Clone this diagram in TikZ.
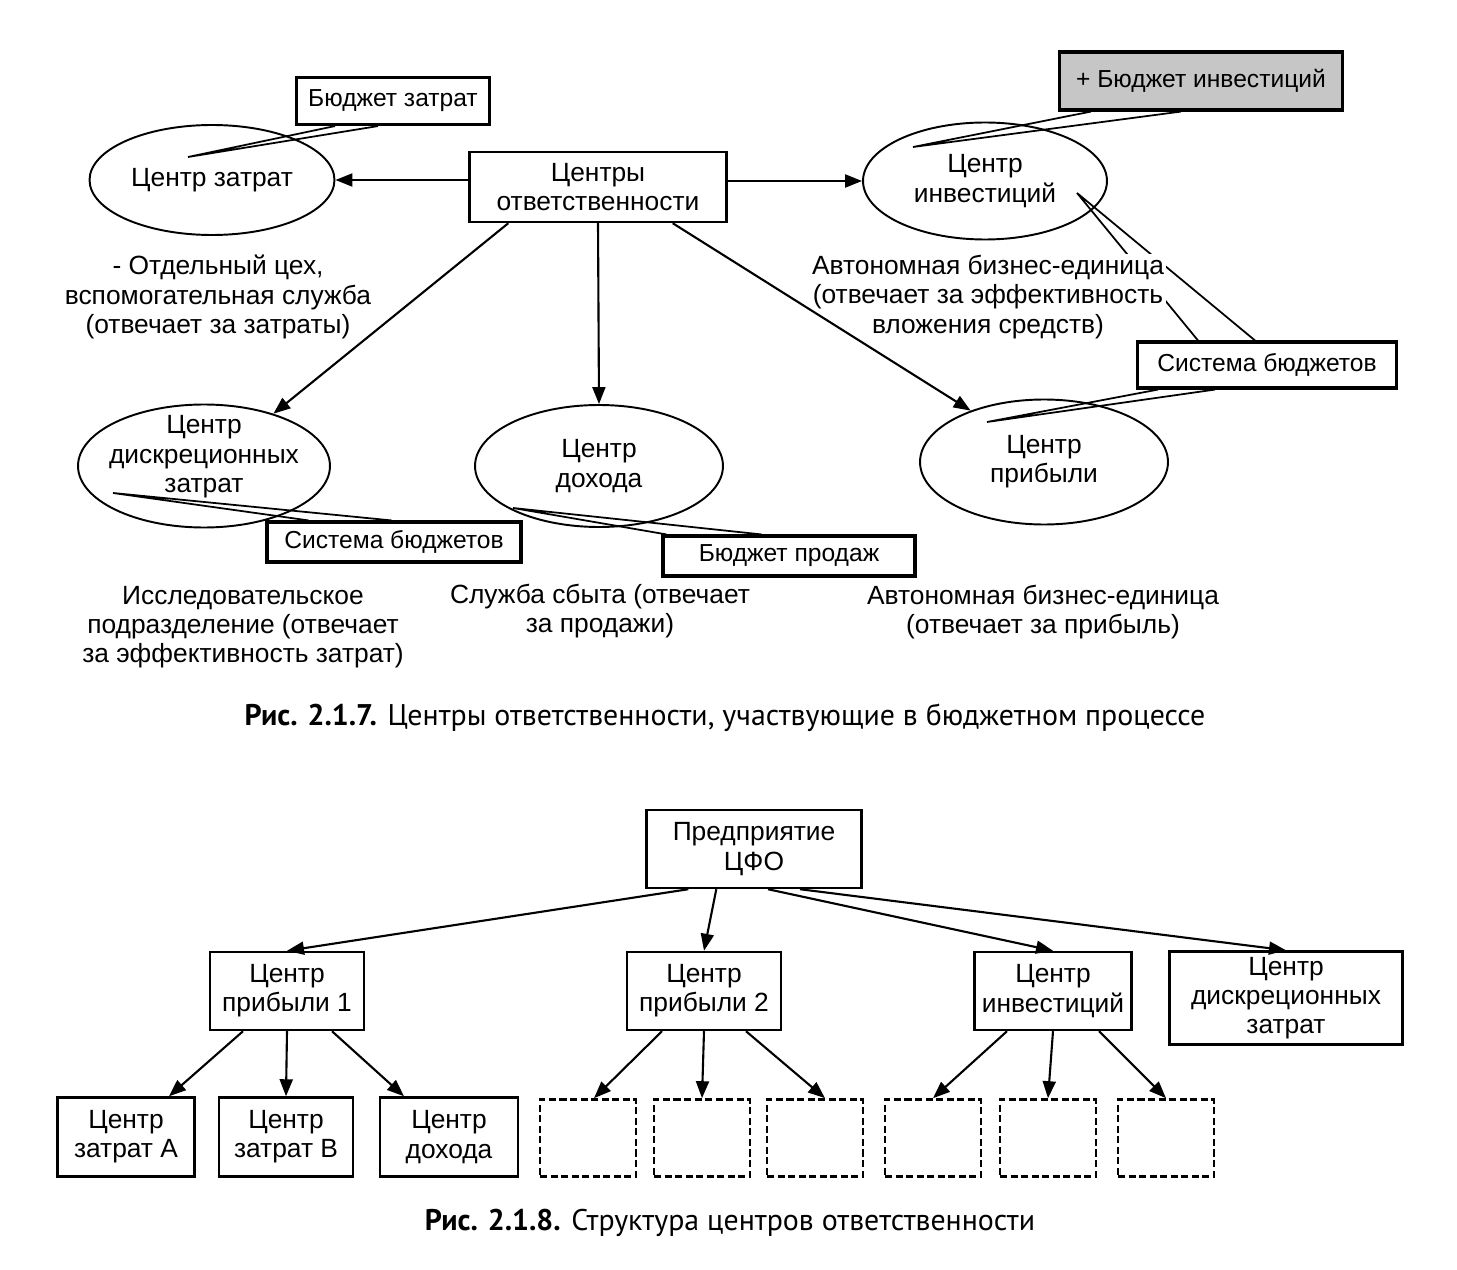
\documentclass[tikz,border=0pt]{standalone}
\usepackage{fontspec}
\setmainfont{Liberation Sans}
\newfontfamily\capfont{PT Sans}
\usetikzlibrary{positioning, arrows.meta, calc, shapes.geometric}

\begin{document}
\begin{tikzpicture}[
  x=0.02cm, y=-0.02cm,
  font=\fontsize{15}{16.6}\selectfont,
  oval/.style={draw, ellipse, line width=1.1pt, inner sep=-0.2cm, align=center},
  block/.style={draw, line width=1.4pt, inner sep=0pt, align=center},
  tag/.style={draw, line width=1.8pt, inner sep=0pt, font=\fontsize{14}{15}\selectfont},
  note/.style={inner sep=1pt, align=center},
  wedge/.style={draw, line width=1pt},
  slot/.style={draw, dash pattern=on 4pt off 2pt, line width=1.5pt, minimum width=1.92cm, minimum height=1.54cm},
  caption/.style={font=\capfont\fontsize{17}{19}\selectfont},
  link/.style={->, line width=1.2pt},
  >={Triangle[length=3.4mm, width=2.6mm]}
]
\useasboundingbox (0,0) rectangle (1457,1270);

% ---- Рис. 2.1.7: responsibility centres around the central box
\node[block, minimum width=5.14cm, minimum height=1.4cm] (resp) at (598,187) {Центры\\ответственности};
\node[oval, minimum width=4.9cm, minimum height=2.2cm] (cost) at (212,180) {Центр затрат};
\node[oval, minimum width=4.88cm, minimum height=2.34cm] (invest) at (985,181) {Центр\\инвестиций};
\node[oval, inner ysep=-0.35cm, minimum width=5.04cm, minimum height=2.46cm] (discr) at (204,466) {Центр\\дискреционных\\затрат\\[-3pt]\mbox{}};
\node[oval, minimum width=4.96cm, minimum height=2.44cm] (income) at (599,466) {Центр\\дохода};
\node[oval, minimum width=4.96cm, minimum height=2.5cm] (profit) at (1044,462) {Центр\\прибыли};

% budget tags
\node[tag, minimum width=3.86cm, minimum height=0.94cm] (tcost) at (393,101) {Бюджет затрат};
\node[tag, fill=gray!45, minimum width=5.66cm, minimum height=1.16cm] (tinv) at (1201,81) {+ Бюджет инвестиций};
\node[tag, minimum width=5.18cm, minimum height=0.92cm] (tsys) at (1267,365) {Система бюджетов};
\node[tag, minimum width=5.08cm, minimum height=0.8cm] (tsysd) at (394,542) {Система бюджетов};
\node[tag, minimum width=5.04cm, minimum height=0.8cm] (tsale) at (789,556) {Бюджет продаж};

% callout wedges from the tags into the ellipses
\draw[wedge] ($(tcost.south west)+(40,0)$) -- ($(cost.center)+(-24,-23)$) -- ($(tcost.south west)+(83,0)$);
\draw[wedge] ($(tinv.south west)+(33,0)$) -- ($(invest.center)+(-72,-34)$) -- ($(tinv.south west)+(123,0)$);
\draw[wedge] ($(tsys.north west)+(62,0)$) -- ($(invest.center)+(92,12)$) -- ($(tsys.north west)+(119,0)$);
\draw[wedge] ($(tsys.south west)+(22,0)$) -- ($(profit.center)+(-57,-40)$) -- ($(tsys.south west)+(79,0)$);
\draw[wedge] ($(tsysd.north west)+(43,0)$) -- ($(discr.center)+(-91,27)$) -- ($(tsysd.north west)+(126,0)$);
\draw[wedge] ($(tsale.north west)+(5,0)$) -- ($(income.center)+(-86,42)$) -- ($(tsale.north west)+(100,0)$);

% descriptions under the centres
\node[note] (dcost) at (218,297) {- Отдельный цех,\\вспомогательная служба\\(отвечает за затраты)};
\node[note, fill=white] (dinv) at (988,297) {Автономная бизнес-единица\\(отвечает за эффективность\\вложения средств)};
\node[note] (ddiscr) at (243,627) {Исследовательское\\подразделение (отвечает\\за эффективность затрат)};
\node[note] (dincome) at (600,611) {Служба сбыта (отвечает\\за продажи)};
\node[note] (dprofit) at (1043,612) {Автономная бизнес-единица\\(отвечает за прибыль)};

% arrows out of the central box
\draw[link] (resp.west |- cost) -- (cost.east);
\draw[link] (resp.east |- invest) -- (invest.west);
\draw[link] ($(resp.south west)+(40,0)$) -- (discr.37);
\draw[link] (resp.south) -- (income.north);
\draw[link] ($(resp.south east)+(-55,0)$) -- (profit.145);

\node[caption] (cap1) at (725,718) {\textbf{Рис. 2.1.7.} Центры ответственности, участвующие в бюджетном процессе};

% ---- Рис. 2.1.8: tree of responsibility centres
\node[block, minimum width=4.3cm, minimum height=1.56cm] (firm) at (754,849) {Предприятие\\ЦФО};
\node[block, minimum width=3.08cm, minimum height=1.56cm] (prof1) at (287,991) {Центр\\прибыли 1};
\node[block, minimum width=3.08cm, minimum height=1.56cm] (prof2) at (704,991) {Центр\\прибыли 2};
\node[block, minimum width=3.14cm, minimum height=1.56cm] (inv) at (1053,991) {Центр\\инвестиций};
\node[block, minimum width=4.66cm, minimum height=1.86cm] (dis) at (1286,998) {Центр\\дискреционных\\затрат};

\node[block, minimum width=2.74cm, minimum height=1.58cm] (costa) at (126,1137) {Центр\\затрат А};
\node[block, minimum width=2.68cm, minimum height=1.58cm] (costb) at (286,1137) {Центр\\затрат В};
\node[block, minimum width=2.76cm, minimum height=1.58cm] (inc) at (449,1137) {Центр\\дохода};
\foreach \i/\x in {1/588, 2/702, 3/815, 4/933, 5/1048, 6/1166}
  \node[slot] (slot\i) at (\x,1138) {};

\draw[link] ($(firm.south west)+(43,0)$) -- (prof1.north);
\draw[link] ($(firm.south west)+(71,0)$) -- (prof2.north);
\draw[link] ($(firm.south)+(14,0)$) -- (inv.north);
\draw[link] ($(firm.south)+(46,0)$) -- (dis.north);

\draw[link] ($(prof1.south)+(-44,0)$) -- ($(costa.north)+(43,0)$);
\draw[link] (prof1.south) -- (costb.north);
\draw[link] ($(prof1.south)+(45,0)$) -- ($(inc.north)+(-45,0)$);
\draw[link] ($(prof2.south)+(-42,0)$) -- ($(slot1.north)+(6,0)$);
\draw[link] (prof2.south) -- (slot2.north);
\draw[link] ($(prof2.south)+(42,0)$) -- ($(slot3.north)+(10,0)$);
\draw[link] ($(inv.south)+(-46,0)$) -- (slot4.north);
\draw[link] (inv.south) -- (slot5.north);
\draw[link] ($(inv.south)+(46,0)$) -- (slot6.north);

\node[caption] (cap2) at (730,1223) {\textbf{Рис. 2.1.8.} Структура центров ответственности};
\end{tikzpicture}
\end{document}
